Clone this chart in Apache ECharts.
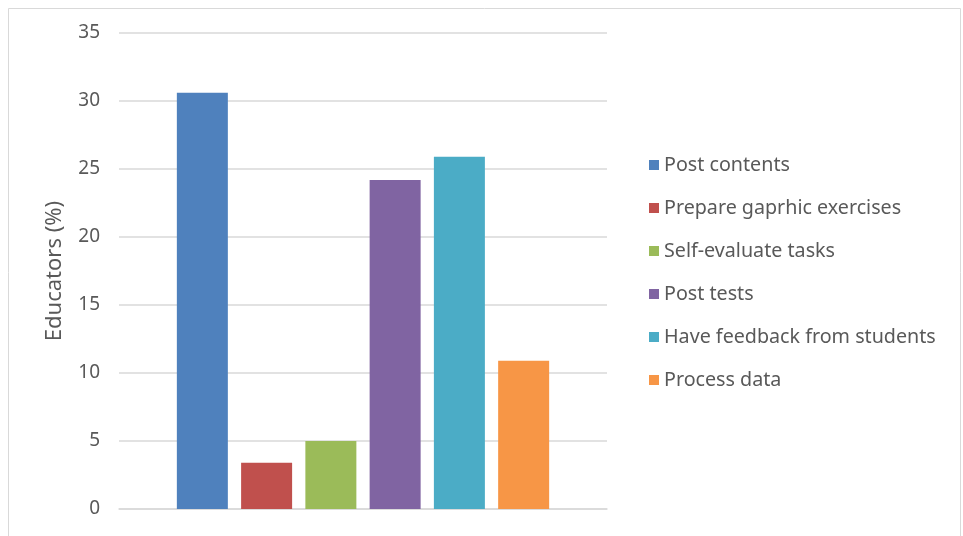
<!DOCTYPE html>
<html>
<head>
<meta charset="utf-8">
<script src="https://cdn.jsdelivr.net/npm/echarts@6/dist/echarts.min.js"></script>
<style>html,body{margin:0;padding:0;background:#fff;}#c{width:963px;height:536px;}</style>
</head>
<body>
<div id="c"></div>
<script>
const categories = [''];
const seriesNames = ['Post contents', 'Prepare gaprhic exercises', 'Self-evaluate tasks', 'Post tests', 'Have feedback from students', 'Process data'];
const seriesValues = [30.6, 3.4, 5.0, 24.2, 25.9, 10.9];
const seriesColors = ['#4f81bd', '#c0504d', '#9bbb59', '#8064a2', '#4bacc6', '#f79646'];
const yTicks = [0, 5, 10, 15, 20, 25, 30, 35];

const chart = echarts.init(document.getElementById('c'));
const font = 'Noto Sans';
chart.setOption({
  animation: false,
  backgroundColor: '#fff',
  graphic: [{
    type: 'rect', left: 6, top: 6, shape: { width: 952, height: 528 },
    style: { fill: 'none', stroke: '#d9d9d9', lineWidth: 1 }, silent: true
  }],
  grid: { left: 119, right: 356, top: 33, bottom: 27, containLabel: false },
  legend: {
    orient: 'vertical', left: 644, top: 149,
    itemWidth: 10, itemHeight: 10, itemGap: 21,
    icon: 'rect',
    data: seriesNames,
    textStyle: { fontFamily: font, fontSize: 19.7, color: '#595959', lineHeight: 22 }
  },
  xAxis: {
    type: 'category', data: categories,
    axisLine: { show: true, lineStyle: { color: '#d9d9d9', width: 1.5 } },
    axisTick: { show: false }, axisLabel: { show: false }
  },
  yAxis: {
    type: 'value', min: 0, max: 35, interval: 5,
    name: 'Educators (%)', nameLocation: 'middle', nameGap: 53,
    nameTextStyle: { fontFamily: font, fontSize: 22, color: '#595959' },
    axisLine: { show: false }, axisTick: { show: false },
    axisLabel: { fontFamily: font, fontSize: 19, color: '#595959', margin: 19,
      formatter: v => yTicks.includes(v) ? String(v) : '' },
    splitLine: { lineStyle: { color: '#d9d9d9', width: 1.5 } }
  },
  series: seriesNames.map((n, i) => ({
    name: n, type: 'bar', data: [seriesValues[i]],
    barWidth: 51, barGap: '26%',
    itemStyle: { color: seriesColors[i] }
  }))
});
</script>
</body>
</html>
